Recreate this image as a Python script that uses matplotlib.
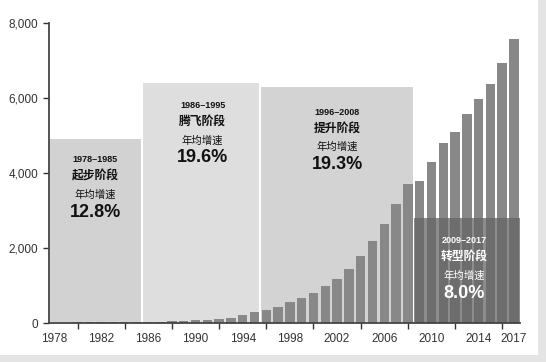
# Annual values 1978-2017 with four development stages shaded behind the bars

import numpy as np
import matplotlib.pyplot as plt
from matplotlib.patches import Rectangle

plt.rcParams['font.family'] = ['Liberation Sans', 'Noto Sans CJK SC', 'DejaVu Sans']

# data
years = list(range(1978, 2018))
values = [11, 12, 14, 15, 17, 19, 22, 25,
          30, 40, 55, 65, 75, 85, 98, 142, 213, 290,
          350, 440, 547, 658, 809, 978, 1178, 1440, 1796, 2187, 2631, 3164, 3707,
          3796, 4302, 4809, 5084, 5582, 5965, 6373, 6933, 7573]

# stages: (start year, end year, box height, period, name, growth)
stage_start = [1978, 1986, 1996, 2009]
stage_end = [1985, 1995, 2008, 2017]
stage_height = [4930, 6430, 6330, 2800]
stage_period = ['1978–1985', '1986–1995', '1996–2008', '2009–2017']
stage_name = ['起步阶段', '腾飞阶段', '提升阶段', '转型阶段']
stage_growth = ['12.8%', '19.6%', '19.3%', '8.0%']

ytick_vals = [0, 2000, 4000, 6000, 8000]
xlabel_years = [1978, 1982, 1986, 1990, 1994, 1998, 2002, 2006, 2010, 2014, 2017]
xmark_years = list(range(1980, 2017, 4))

fig = plt.figure(figsize=(5.46, 3.62), dpi=100)
ax = fig.add_axes([0.0897, 0.1077, 0.8623, 0.8288])
xmin, xmax = 1977.58, 2017.49

# background stage boxes (first three)
box_colors = ['#d2d2d2', '#dedede', '#d3d3d3']
for i in range(3):
    x0 = max(stage_start[i] - 0.5, xmin)
    x1 = stage_end[i] + 0.5
    ax.add_patch(Rectangle((x0, 0), x1 - x0, stage_height[i], facecolor=box_colors[i],
                           edgecolor='white', linewidth=1.5, zorder=0))

ax.bar(years, values, width=0.8, color='#888888', zorder=2)

# dark overlay for the last stage
x0 = stage_start[3] - 0.5
ax.add_patch(Rectangle((x0, 0), xmax - x0, stage_height[3], facecolor='#646464',
                       alpha=0.74, edgecolor='none', zorder=3))

# stage texts: x centre in years, y of first line
text_x = [1981.5, 1990.6, 2002.0, 2012.8]
text_y = [4350, 5800, 5620, 2200]
for i in range(4):
    c = 'white' if i == 3 else '#111111'
    tx, ty = text_x[i], text_y[i]
    ax.text(tx, ty, stage_period[i], ha='center', va='center', fontsize=6.5,
            fontweight='bold', color=c, zorder=4)
    ax.text(tx, ty - 430, stage_name[i], ha='center', va='center', fontsize=8.5,
            fontweight='bold', color=c, zorder=4)
    ax.text(tx, ty - 930, '年均增速', ha='center', va='center', fontsize=7.5,
            color=c, zorder=4)
    ax.text(tx, ty - 1400, stage_growth[i], ha='center', va='center', fontsize=13,
            fontweight='bold', color=c, zorder=4)

ax.set_xlim(xmin, xmax)
ax.set_ylim(0, 8000)
ax.set_yticks(ytick_vals)
ax.set_yticklabels([f'{v:,}' for v in ytick_vals])
ax.set_xticks(xmark_years)
ax.set_xticklabels([])
ax.set_xticks(xlabel_years, minor=True)
ax.set_xticklabels([str(y) for y in xlabel_years], minor=True)
ax.tick_params(axis='x', which='major', length=4, width=1, color='#333333', direction='out')
ax.tick_params(axis='x', which='minor', length=0, pad=7, labelsize=8.5, labelcolor='#333333')
ax.tick_params(axis='y', length=4, width=1, color='#333333', labelsize=8.5,
               labelcolor='#333333')

for s in ['top', 'right']:
    ax.spines[s].set_visible(False)
for s in ['left', 'bottom']:
    ax.spines[s].set_color('#444444')
    ax.spines[s].set_linewidth(1.3)
    ax.spines[s].set_zorder(5)

# faint frame shadow at the right and bottom edges of the picture
fig.patches.append(Rectangle((0.985, 0.02), 0.015, 0.98, transform=fig.transFigure,
                             facecolor='#e4e4e4', edgecolor='none'))
fig.patches.append(Rectangle((0, 0), 1, 0.02, transform=fig.transFigure,
                             facecolor='#e4e4e4', edgecolor='none'))

fig.savefig('out.png', dpi=100)
